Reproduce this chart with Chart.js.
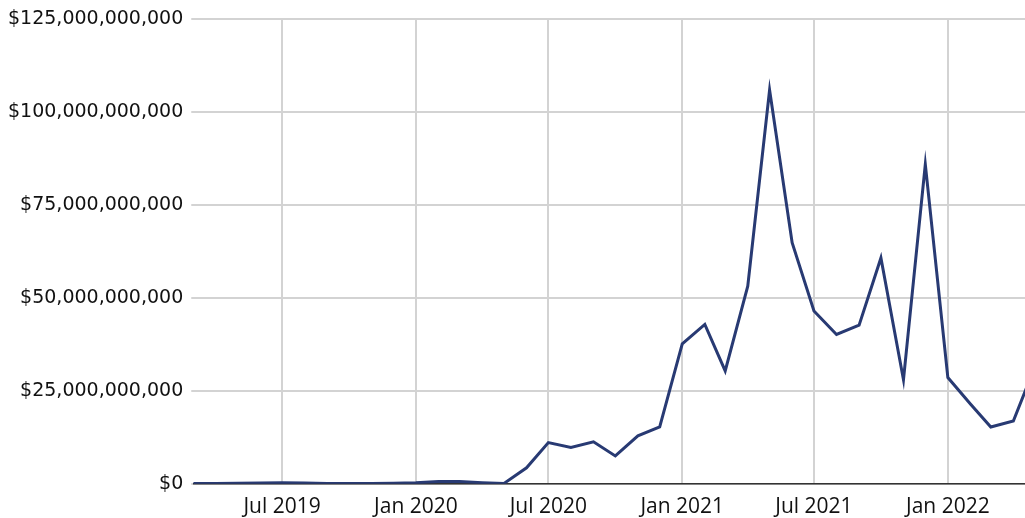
<!DOCTYPE html>
<html>
<head>
<meta charset="utf-8">
<script src="https://cdn.jsdelivr.net/npm/chart.js@4/dist/chart.umd.min.js"></script>
<style>
  html, body { margin: 0; padding: 0; background: #ffffff; }
  #wrap { width: 1025px; height: 518px; }
</style>
</head>
<body>
<div id="wrap"><canvas id="c" width="1025" height="518"></canvas></div>
<script>
// Months (first day of month) of each data point
const months = [
  '2019-03','2019-04','2019-05','2019-06','2019-07','2019-08','2019-09','2019-10','2019-11','2019-12',
  '2020-01','2020-02','2020-03','2020-04','2020-05','2020-06','2020-07','2020-08','2020-09','2020-10','2020-11','2020-12',
  '2021-01','2021-02','2021-03','2021-04','2021-05','2021-06','2021-07','2021-08','2021-09','2021-10','2021-11','2021-12',
  '2022-01','2022-02','2022-03','2022-04','2022-05'
];
// Monthly volume, in billions of US dollars
const volumeBillions = [
  0.05, 0.1, 0.15, 0.2, 0.25, 0.2, 0.1, 0.1, 0.1, 0.15,
  0.3, 0.6, 0.6, 0.3, 0.1, 4.3, 11.1, 9.8, 11.3, 7.5, 12.9, 15.3,
  37.7, 42.9, 30.4, 53.2, 106.0, 64.9, 46.5, 40.2, 42.7, 60.8, 28.0, 86.0,
  28.6, 21.5, 15.3, 16.9, 31.7
];
// X axis tick positions and labels
const xTickDates = ['2019-07','2020-01','2020-07','2021-01','2021-07','2022-01'];
const xTickLabels = ['Jul 2019','Jan 2020','Jul 2020','Jan 2021','Jul 2021','Jan 2022'];
// X axis range
const xStart = '2019-03-01';
const xEnd = '2022-04-17';
// Y axis ticks
const yTicks = [0, 25e9, 50e9, 75e9, 100e9, 125e9];

function toMs(s) {
  const p = s.split('-').map(Number);
  return Date.UTC(p[0], p[1] - 1, p[2] || 1);
}

const points = months.map((m, i) => ({ x: toMs(m), y: volumeBillions[i] * 1e9 }));
const tickMs = xTickDates.map(toMs);

new Chart(document.getElementById('c'), {
  type: 'line',
  data: {
    datasets: [{
      data: points,
      borderColor: '#283a73',
      borderWidth: 3,
      pointRadius: 0,
      tension: 0,
      fill: false
    }]
  },
  options: {
    responsive: false,
    animation: false,
    layout: { padding: { top: 9, right: 0, left: 0, bottom: -13 } },
    plugins: { legend: { display: false }, tooltip: { enabled: false } },
    scales: {
      x: {
        type: 'linear',
        min: toMs(xStart),
        max: toMs(xEnd),
        afterBuildTicks: (axis) => { axis.ticks = tickMs.map(v => ({ value: v })); },
        ticks: {
          autoSkip: false,
          maxRotation: 0,
          padding: 11,
          color: '#111111',
          font: { family: 'Open Sans', size: 21 },
          callback: (v) => { const i = tickMs.indexOf(v); return i >= 0 ? xTickLabels[i] : ''; }
        },
        grid: { color: '#d3d3d3', lineWidth: 2, tickLength: 0, drawTicks: false },
        border: { display: true, color: '#333333', width: 1.5 }
      },
      y: {
        min: 0,
        max: 125e9,
        afterBuildTicks: (axis) => { axis.ticks = yTicks.map(v => ({ value: v })); },
        ticks: {
          padding: 8,
          color: '#111111',
          font: { family: 'DejaVu Sans', size: 19 },
          callback: (v) => '$' + Number(v).toLocaleString('en-US')
        },
        grid: { color: '#d3d3d3', lineWidth: 2, tickLength: 2 },
        border: { display: false }
      }
    }
  }
});
</script>
</body>
</html>
